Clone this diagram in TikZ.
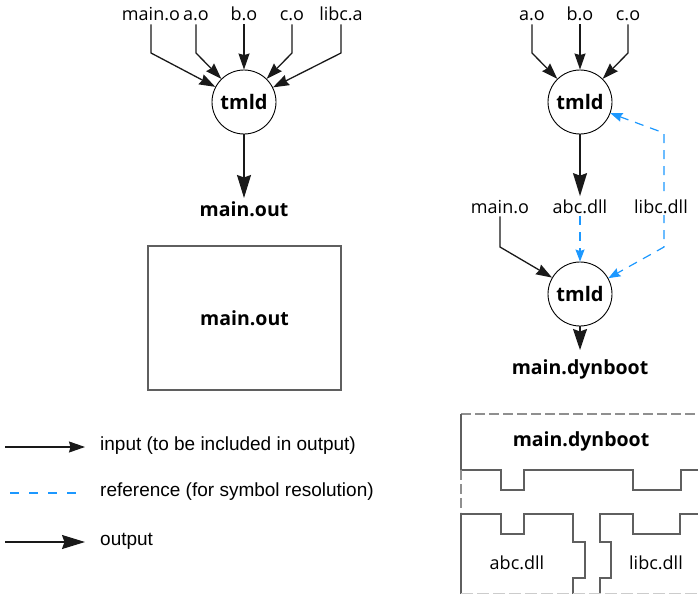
\documentclass[tikz,border=0pt]{standalone}
\usepackage{fontspec}
\setmainfont{Open Sans}
\newfontfamily\legendfont{Liberation Sans}
\usetikzlibrary{arrows.meta}
\definecolor{refblue}{RGB}{28,152,255}
\definecolor{boxgray}{RGB}{95,95,95}
\begin{document}
\begin{tikzpicture}[x=1pt,y=-1pt,
  lbl/.style={font=\fontsize{18}{21}\selectfont, inner sep=3pt},
  blbl/.style={font=\fontsize{19.5}{22}\selectfont\bfseries, inner sep=3pt},
  legtext/.style={font=\legendfont\fontsize{19}{22}\selectfont, inner sep=0pt, anchor=west},
  proc/.style={circle, draw, line width=0.9pt, minimum size=64pt, inner sep=0pt, font=\fontsize{20}{22}\selectfont\bfseries},
  inarrow/.style={line width=1.3pt, draw=black!90, -{Stealth[length=16pt,width=11pt,inset=1.5pt]}},
  outarrow/.style={line width=1.5pt, draw=black!90, -{Stealth[length=23pt,width=14pt,inset=2.5pt]}},
  refline/.style={line width=1.2pt, draw=refblue, dash pattern=on 9pt off 7pt},
  reftip/.style={-{Stealth[length=12pt,width=9pt,inset=1.5pt]}},
  memline/.style={line width=1.1pt, draw=boxgray},
  memdash/.style={line width=1.1pt, draw=boxgray!70, dash pattern=on 10pt off 4pt},
]
\useasboundingbox (0,0) rectangle (698,594);

% ---------- left: static link ----------
\node[lbl, anchor=base] (lmain) at (151,21) {main.o};
\node[lbl, anchor=base] (la) at (196,21) {a.o};
\node[lbl, anchor=base] (lb) at (244,21) {b.o};
\node[lbl, anchor=base] (lc) at (292,21) {c.o};
\node[lbl, anchor=base] (llibc) at (341,21) {libc.a};
\node[proc] (tl) at (244,102) {tmld};
\node[blbl, anchor=base] (lout) at (244,216) {main.out};

\draw[inarrow] (lmain.south) -- (lmain.south |- 0,53) -- (tl);
\draw[inarrow] (la.south) -- (la.south |- 0,53) -- (tl);
\draw[inarrow] (lb.south) -- (tl);
\draw[inarrow] (lc.south) -- (lc.south |- 0,53) -- (tl);
\draw[inarrow] (llibc.south) -- (llibc.south |- 0,53) -- (tl);
\draw[outarrow] (tl) -- (lout);

\node[blbl, draw=boxgray, line width=1.1pt, minimum width=193pt, minimum height=144pt] (boxout) at (244.5,318) {main.out};

% ---------- right: dynamic link ----------
\node[lbl, anchor=base] (ra) at (532,21) {a.o};
\node[lbl, anchor=base] (rb) at (580,21) {b.o};
\node[lbl, anchor=base] (rc) at (628,21) {c.o};
\node[proc] (tr1) at (580,102) {tmld};
\node[lbl, anchor=base] (rabc) at (580,213) {abc.dll};
\node[lbl, anchor=base] (rmain) at (500,213) {main.o};
\node[proc] (tr2) at (580,294) {tmld};
\node[blbl, anchor=base] (rdyn) at (580,374) {main.dynboot};
\coordinate (k1) at (664,133);
\coordinate (k2) at (664,247);
\coordinate (dyntip) at (580,350);

\draw[inarrow] (ra.south) -- (ra.south |- 0,53) -- (tr1);
\draw[inarrow] (rb.south) -- (tr1);
\draw[inarrow] (rc.south) -- (rc.south |- 0,53) -- (tr1);
\draw[outarrow] (tr1) -- (rabc);
\draw[refline, reftip] (rabc) -- (tr2);
\draw[inarrow] (rmain.south) -- (rmain.south |- 0,247) -- (tr2);
\draw[refline, {Stealth[length=12pt,width=9pt,inset=1.5pt]}-{Stealth[length=12pt,width=9pt,inset=1.5pt]}] (tr1) -- (k1) -- (k2) -- (tr2);
\node[lbl, anchor=base, fill=white, inner sep=2pt] (rlibc) at (661,213) {libc.dll};
\draw[line width=1.5pt, draw=black!90, -{Stealth[length=21pt,width=14pt,inset=2.5pt]}] (tr2.south) -- (dyntip);

% ---------- memory layout ----------
\draw[memdash] (461,414) -- (698,414);
\draw[memline] (461,414) -- (461,470) -- (501,470) -- (501,490) -- (524,490) -- (524,470)
  -- (633,470) -- (633,490) -- (681,490) -- (681,470) -- (698,470);
\draw[memdash] (461,470) -- (461,512);
\draw[memline] (461,594) -- (461,514) -- (501,514) -- (501,534) -- (524,534) -- (524,514)
  -- (573,514) -- (573,542) -- (585,542) -- (585,578) -- (573,578) -- (573,594);
\draw[memline] (600,594) -- (600,578) -- (611,578) -- (611,542) -- (600,542) -- (600,514)
  -- (633,514) -- (633,534) -- (680,534) -- (680,514) -- (698,514);
\draw[line width=1pt, draw=gray!40, dash pattern=on 12pt off 4pt] (461,593.5) -- (698,593.5);
\node[blbl] (mdyn) at (581,441) {main.dynboot};
\node[lbl] (mabc) at (517,563) {abc.dll};
\node[lbl] (mlibc) at (656,563) {libc.dll};

% ---------- legend ----------
\coordinate (g1s) at (5,447); \coordinate (g1e) at (85,447);
\coordinate (g2s) at (5,493); \coordinate (g2e) at (85,493);
\coordinate (g3s) at (5,542); \coordinate (g3e) at (85,542);
\draw[inarrow, line width=1.1pt] (g1s) -- (g1e);
\draw[refline, dash pattern=on 9pt off 10pt, dash phase=-5pt] (g2s) -- (g2e);
\draw[outarrow, line width=1.3pt] (g3s) -- (g3e);
\node[legtext] (t1) at (100,446) {input (to be included in output)};
\node[legtext] (t2) at (100,492) {reference (for symbol resolution)};
\node[legtext] (t3) at (100,541) {output};
\end{tikzpicture}
\end{document}
